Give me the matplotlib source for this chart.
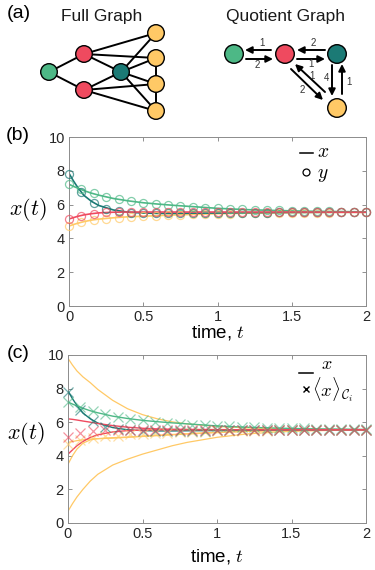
import numpy as np
import matplotlib
matplotlib.use('Agg')
import matplotlib.pyplot as plt
from matplotlib.patches import Circle

plt.rcParams['font.family'] = ['Liberation Sans', 'DejaVu Sans']
plt.rcParams['mathtext.fontset'] = 'cm'

# ---------------- data ----------------
# colours of the four classes
C_GREEN = '#4DB886'
C_RED = '#EF4A5F'
C_TEAL = '#1B7A75'
C_YEL = '#FFC966'

# time grid for the continuous curves
t_fine = [0, 0.03, 0.06, 0.1, 0.15, 0.2, 0.3, 0.4, 0.5, 0.6, 0.7, 0.8, 1.0, 1.2, 1.4, 1.6, 1.8, 2.0]
teal_x = [7.85, 7.4, 7.0, 6.55, 6.2, 5.95, 5.68, 5.55, 5.5, 5.48, 5.48, 5.49, 5.5, 5.52, 5.53, 5.54, 5.55, 5.55]
green_x = [7.2, 7.08, 6.97, 6.83, 6.68, 6.56, 6.36, 6.22, 6.11, 6.03, 5.96, 5.9, 5.78, 5.7, 5.65, 5.61, 5.59, 5.57]
red_x = [5.15, 5.23, 5.31, 5.39, 5.46, 5.51, 5.55, 5.56, 5.56, 5.56, 5.56, 5.56, 5.56, 5.56, 5.56, 5.56, 5.55, 5.55]
yel_x = [4.73, 4.82, 4.9, 4.99, 5.08, 5.14, 5.22, 5.28, 5.31, 5.35, 5.38, 5.41, 5.46, 5.49, 5.51, 5.53, 5.54, 5.54]

# individual nodes (panel c) that are not in sync
red1 = [6.2, 6.17, 6.13, 6.07, 6.0, 5.92, 5.8, 5.7, 5.64, 5.6, 5.58, 5.57, 5.56, 5.55, 5.55, 5.55, 5.55, 5.55]
red2 = [4.1, 4.35, 4.6, 4.85, 5.1, 5.25, 5.42, 5.5, 5.53, 5.55, 5.55, 5.55, 5.55, 5.55, 5.55, 5.55, 5.55, 5.55]
yel1 = [9.8, 9.4, 9.05, 8.7, 8.35, 7.95, 7.3, 6.8, 6.45, 6.2, 6.02, 5.9, 5.75, 5.66, 5.61, 5.58, 5.57, 5.56]
yel2 = [4.8, 4.85, 4.9, 4.95, 5.0, 5.02, 5.05, 5.1, 5.15, 5.2, 5.25, 5.3, 5.38, 5.45, 5.5, 5.52, 5.54, 5.55]
yel3 = [3.5, 4.0, 4.4, 4.75, 4.95, 5.02, 5.08, 5.12, 5.17, 5.22, 5.27, 5.32, 5.4, 5.46, 5.5, 5.53, 5.54, 5.55]
yel4 = [0.7, 1.15, 1.55, 2.0, 2.5, 2.9, 3.45, 3.8, 4.1, 4.35, 4.6, 4.8, 5.1, 5.3, 5.42, 5.48, 5.52, 5.54]

# quotient / cluster-average values at the marker times
t_mark = np.linspace(0, 2, 25)
teal_y = [7.8, 6.72, 6.08, 5.74, 5.6, 5.53, 5.5, 5.48, 5.48, 5.49, 5.5, 5.5, 5.51, 5.52, 5.52,
          5.53, 5.53, 5.54, 5.54, 5.54, 5.55, 5.55, 5.55, 5.55, 5.55]
green_y = [7.2, 6.9, 6.67, 6.47, 6.31, 6.21, 6.11, 6.03, 5.97, 5.91, 5.86, 5.82, 5.78, 5.75,
           5.72, 5.7, 5.68, 5.66, 5.64, 5.63, 5.61, 5.6, 5.59, 5.58, 5.57]
red_y = [5.13, 5.34, 5.46, 5.54, 5.56, 5.56, 5.56, 5.56, 5.56, 5.56, 5.56, 5.56, 5.56, 5.56,
         5.56, 5.56, 5.56, 5.56, 5.56, 5.56, 5.55, 5.55, 5.55, 5.55, 5.55]
yel_y = [4.73, 4.95, 5.07, 5.15, 5.2, 5.27, 5.31, 5.35, 5.37, 5.4, 5.42, 5.44, 5.46, 5.47,
         5.48, 5.49, 5.5, 5.51, 5.52, 5.52, 5.53, 5.53, 5.54, 5.54, 5.54]

x_ticks = [0, 0.5, 1, 1.5, 2]
x_ticklabels = ['0', '0.5', '1', '1.5', '2']
y_ticks = [0, 2, 4, 6, 8, 10]

# graph diagram layout (pixel positions in panel a)
full_nodes = {
    'g': (49, 72, C_GREEN), 'r1': (84, 54, C_RED), 'r2': (84, 90, C_RED),
    't': (121, 72, C_TEAL), 'y1': (156, 33, C_YEL), 'y2': (156, 58, C_YEL),
    'y3': (156, 84, C_YEL), 'y4': (156, 111, C_YEL)}
full_edges = [('g', 'r1'), ('g', 'r2'), ('r1', 't'), ('r2', 't'), ('r1', 'y1'), ('r1', 'y2'),
              ('r2', 'y3'), ('r2', 'y4'), ('t', 'y1'), ('t', 'y2'), ('t', 'y3'), ('t', 'y4'),
              ('y2', 'y3'), ('y3', 'y4')]
quot_nodes = {'g': (234, 54, C_GREEN), 'r': (285, 54, C_RED),
              't': (337, 54, C_TEAL), 'y': (337, 108, C_YEL)}
# (start, end, label, label position)
quot_arrows = [
    ((271, 50), (245, 50), '1', (262, 43)),
    ((246, 59), (273, 59), '2', (257, 65)),
    ((325, 50), (297, 50), '2', (313, 43)),
    ((297, 59), (325, 59), '1', (311, 64)),
    ((332, 65), (332, 96), '4', (326, 78)),
    ((342, 94), (342, 64), '1', (349, 82)),
    ((325, 92), (295, 64), '1', (312, 76)),
    ((291, 69), (323, 100), '2', (302, 90)),
]

# ---------------- figure ----------------
W, H = 375, 570
fig = plt.figure(figsize=(W / 100, H / 100), dpi=100)

# panel (a)
ax_a = fig.add_axes([0, 1 - 125 / H, 1, 125 / H])
ax_a.set_xlim(0, W)
ax_a.set_ylim(125, 0)
ax_a.axis('off')
for a, b in full_edges:
    xa, ya, _ = full_nodes[a]
    xb, yb, _ = full_nodes[b]
    ax_a.plot([xa, xb], [ya, yb], color='black', lw=1.4, zorder=1, solid_capstyle='round')
for k, (x, y, c) in full_nodes.items():
    ax_a.add_patch(Circle((x, y), 8.3, fc=c, ec='black', lw=1.0, zorder=2))
for k, (x, y, c) in quot_nodes.items():
    ax_a.add_patch(Circle((x, y), 9.3, fc=c, ec='black', lw=1.0, zorder=2))
for s, e, lab, lp in quot_arrows:
    ax_a.annotate('', xy=e, xytext=s,
                  arrowprops=dict(arrowstyle='-|>', lw=1.4, color='black',
                                  mutation_scale=10, shrinkA=0, shrinkB=0))
    ax_a.text(lp[0], lp[1], lab, fontsize=7, color='#333333', ha='center', va='center')
ax_a.text(102, 16, 'Full Graph', fontsize=12.5, ha='center', va='center', color='#1a1a1a')
ax_a.text(286, 16, 'Quotient Graph', fontsize=12.5, ha='center', va='center', color='#1a1a1a')


def style_axes(ax):
    ax.set_xlim(0, 2)
    ax.set_ylim(0, 10)
    ax.set_xticks(x_ticks)
    ax.set_xticklabels(x_ticklabels)
    ax.set_yticks(y_ticks)
    ax.tick_params(direction='in', length=3, width=0.6, color='#7f7f7f',
                   labelsize=10.5, labelcolor='#262626', top=True, right=True, pad=3)
    for sp in ax.spines.values():
        sp.set_color('#8c8c8c')
        sp.set_linewidth(0.7)


# panel (b)
ax_b = fig.add_axes([69 / W, 1 - 306 / H, 297 / W, 169 / H])
style_axes(ax_b)
for xs, ys, c in [(yel_x, yel_y, C_YEL), (teal_x, teal_y, C_TEAL),
                  (green_x, green_y, C_GREEN), (red_x, red_y, C_RED)]:
    ax_b.plot(t_fine, xs, color=c, lw=1.2, zorder=2)
    ax_b.plot(t_mark, ys, ls='none', marker='o', ms=5.8, mfc='none', mec=c,
              mew=0.9, alpha=0.7, zorder=3, clip_on=False)
ax_b.text(0.5, -0.155, 'time, $t$', transform=ax_b.transAxes, ha='center', va='center',
          fontsize=13.5)
ax_b.text(-0.14, 0.57, '$x(t)$', transform=ax_b.transAxes, ha='center', va='center',
          fontsize=16)
ax_b.plot([0.778, 0.822], [0.907, 0.907], color='black', lw=1.1, transform=ax_b.transAxes)
ax_b.text(0.835, 0.91, '$x$', transform=ax_b.transAxes, ha='left', va='center', fontsize=14)
ax_b.plot([0.797], [0.79], marker='o', ms=5, mfc='none', mec='black', mew=0.9,
          transform=ax_b.transAxes)
ax_b.text(0.835, 0.775, '$y$', transform=ax_b.transAxes, ha='left', va='center', fontsize=14)

# panel (c)
ax_c = fig.add_axes([68 / W, 1 - 523 / H, 298 / W, 168 / H])
style_axes(ax_c)
for xs, c, lw in [(yel1, C_YEL, 0.9), (yel2, C_YEL, 0.9), (yel3, C_YEL, 0.9),
                  (yel4, C_YEL, 0.9), (teal_x, C_TEAL, 1.0), (green_x, C_GREEN, 1.0),
                  (red1, C_RED, 1.0), (red2, C_RED, 1.0)]:
    ax_c.plot(t_fine, xs, color=c, lw=lw, zorder=2)
for ys, c in [(yel_y, C_YEL), (teal_y, C_TEAL), (green_y, C_GREEN), (red_y, C_RED)]:
    ax_c.plot(t_mark, ys, ls='none', marker='x', ms=7.5, mec=c, mew=0.9, alpha=0.6,
              zorder=3, clip_on=False)
ax_c.text(0.5, -0.2, 'time, $t$', transform=ax_c.transAxes, ha='center', va='center',
          fontsize=13.5)
ax_c.text(-0.14, 0.535, '$x(t)$', transform=ax_c.transAxes, ha='center', va='center',
          fontsize=16)
ax_c.plot([0.775, 0.822], [0.895, 0.895], color='black', lw=1.1, transform=ax_c.transAxes)
ax_c.text(0.85, 0.945, '$x$', transform=ax_c.transAxes, ha='left', va='center', fontsize=13)
ax_c.plot([0.797], [0.8], marker='x', ms=4.5, mec='black', mew=1.0,
          transform=ax_c.transAxes)
ax_c.text(0.82, 0.795, r'$\langle x\rangle_{\mathcal{C}_i}$', transform=ax_c.transAxes,
          ha='left', va='center', fontsize=13.5)

# panel letters
fig.text(19 / W, 1 - 13 / H, '(a)', fontsize=14, ha='center', va='center')
fig.text(18 / W, 1 - 136 / H, '(b)', fontsize=14, ha='center', va='center')
fig.text(18 / W, 1 - 353 / H, '(c)', fontsize=14, ha='center', va='center')

fig.savefig('out.png', dpi=100)
